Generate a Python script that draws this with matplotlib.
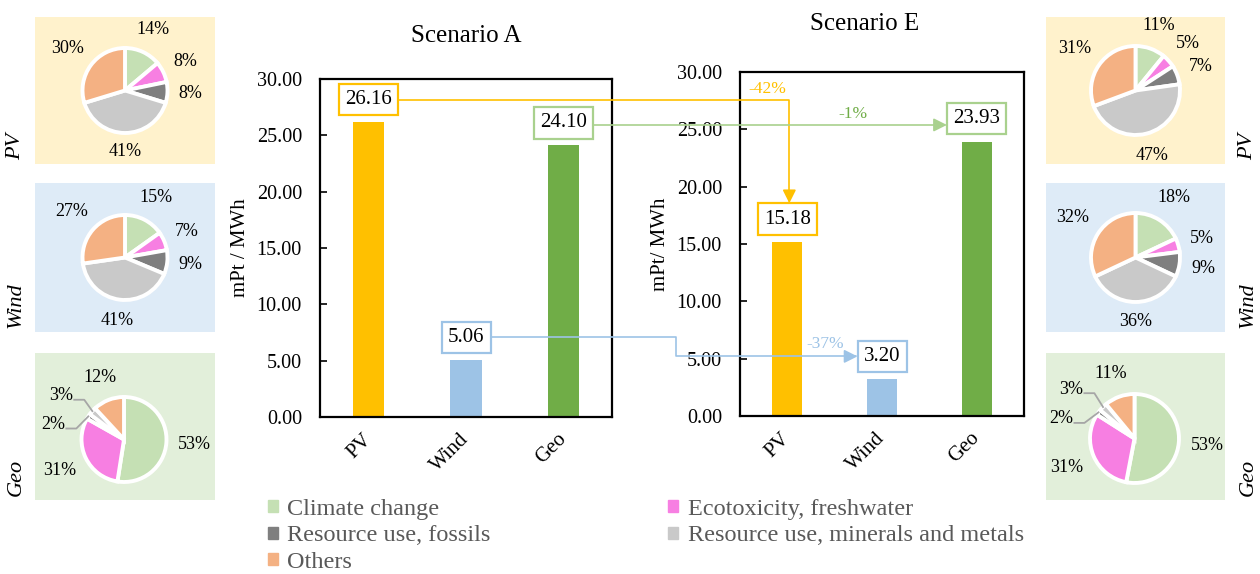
import numpy as np
import matplotlib as mpl
mpl.use('Agg')
import matplotlib.pyplot as plt
from matplotlib.patches import Patch, FancyArrowPatch
from matplotlib.path import Path
from matplotlib.lines import Line2D
from matplotlib.ticker import FormatStrFormatter

plt.rcParams['font.family'] = ['Liberation Serif', 'DejaVu Serif']

# ---- data ----
sources = ["PV", "Wind", "Geo"]
score_a = [26.16, 5.06, 24.10]
score_e = [15.18, 3.20, 23.93]
change_lbl = ["-42%", "-37%", "-1%"]

impacts = ["Climate change", "Ecotoxicity, freshwater", "Resource use, fossils",
           "Resource use, minerals and metals", "Others"]

share_a_pv = [14, 8, 8, 41, 30]
share_a_wind = [15, 7, 9, 41, 27]
share_a_geo = [53, 31, 2, 3, 12]
share_e_pv = [11, 5, 7, 47, 31]
share_e_wind = [18, 5, 9, 36, 32]
share_e_geo = [53, 31, 2, 3, 11]

# ---- styles ----
impact_colors = ["#C5E0B4", "#F77FE2", "#7F7F7F", "#C9C9C9", "#F4B183"]
bar_colors = ["#FFC000", "#9DC3E6", "#70AD47"]
box_colors = ["#FFC000", "#9DC3E6", "#A9D18E"]
change_colors = ["#FFC000", "#9DC3E6", "#70AD47"]
panel_colors = ["#FFF2CC", "#DEEBF7", "#E2EFDA"]
PIE_FS = 13

W, H = 1260, 574
fig = plt.figure(figsize=(W / 100, H / 100), dpi=100)


def px_rect(x0, y0, x1, y1):
    return [x0 / W, 1 - y1 / H, (x1 - x0) / W, (y1 - y0) / H]


def bar_panel(rect, values, ylabel, title, title_x, title_pad):
    ax = fig.add_axes(rect)
    x = np.arange(len(sources))
    ax.bar(x, values, width=0.32, color=bar_colors)
    ax.set_xlim(-0.5, 2.5)
    ax.set_ylim(0, 30)
    ax.set_yticks(np.arange(0, 31, 5))
    ax.yaxis.set_major_formatter(FormatStrFormatter('%.2f'))
    ax.set_xticks(x)
    ax.set_xticklabels(sources, rotation=45, ha='right', va='center',
                       rotation_mode='anchor')
    ax.tick_params(axis='x', length=0, pad=14, labelsize=15)
    ax.tick_params(axis='y', direction='in', length=5, width=1.2,
                   labelsize=14.5, pad=13)
    for s in ax.spines.values():
        s.set_linewidth(1.6)
    ax.set_ylabel(ylabel, fontsize=15, labelpad=5)
    ax.set_title(title, fontsize=18, x=title_x, pad=title_pad)
    boxes = []
    for xi, v, c in zip(x, values, box_colors):
        t = ax.text(xi, v + 2, f"{v:.2f}", ha='center', va='center', fontsize=15,
                    bbox=dict(boxstyle='square,pad=0.3', fc='white', ec=c, lw=1.6))
        boxes.append(t)
    return ax, boxes


ax_a, box_a = bar_panel(px_rect(320, 79, 612, 417), score_a, "mPt / MWh",
                        "Scenario A", 0.5, 27)
ax_e, box_e = bar_panel(px_rect(740, 72, 1024, 416), score_e, "mPt/ MWh",
                        "Scenario E", 0.44, 30)

leaders = []


def pie_panel(rect, shares, color, radius, shift):
    ax = fig.add_axes(rect)
    ax.set_facecolor(color)
    w_px, h_px = rect[2] * W, rect[3] * H
    cx, cy = w_px / 2 + shift[0], h_px / 2 + shift[1]
    ax.pie(shares, colors=impact_colors, startangle=90, counterclock=False,
           radius=radius, center=(cx, cy), frame=True,
           wedgeprops=dict(edgecolor='white', linewidth=2.8))
    ax.set_xlim(0, w_px)
    ax.set_ylim(0, h_px)
    ax.set_aspect('auto')
    ax.set_xticks([])
    ax.set_yticks([])
    for s in ax.spines.values():
        s.set_visible(False)

    fs_px = PIE_FS * 100 / 72
    frac = np.cumsum([0] + list(shares)) / np.sum(shares)
    for i, v in enumerate(shares):
        mid = np.deg2rad(90 - 360 * (frac[i] + frac[i + 1]) / 2)
        lbl = f"{v}%"
        if v < 4:
            # small slices: label pushed out with a leader line
            shift_deg, dist = {2: (21, 1.7), 3: (7, 1.8)}.get(i, (15, 1.7))
            ang = mid + np.deg2rad(shift_deg)
            tx, ty = cx + dist * radius * np.cos(ang), cy + dist * radius * np.sin(ang)
            t = ax.text(tx, ty, lbl, ha='center', va='center', fontsize=PIE_FS)
            ex, ey = cx + radius * np.cos(mid), cy + radius * np.sin(mid)
            leaders.append((ax, t, ex, ey))
        else:
            tw = (0.5 * (len(lbl) - 1) + 0.833) * fs_px
            th = 0.9 * fs_px
            d = 1.25 * radius + abs(np.cos(mid)) * tw / 2 + abs(np.sin(mid)) * th / 2
            ax.text(cx + d * np.cos(mid), cy + d * np.sin(mid), lbl,
                    ha='center', va='center', fontsize=PIE_FS)
    return ax


left_x, right_x = (35, 215), (1046, 1225)
rows_y = [(17, 164), (183, 332), (353, 500)]
shares_a = [share_a_pv, share_a_wind, share_a_geo]
shares_e = [share_e_pv, share_e_wind, share_e_geo]
for k in range(3):
    y0, y1 = rows_y[k]
    pie_panel(px_rect(left_x[0], y0, left_x[1], y1), shares_a[k],
              panel_colors[k], 42.5, (-1, -13) if k == 2 else (0, 0))
    pie_panel(px_rect(right_x[0], y0, right_x[1], y1), shares_e[k],
              panel_colors[k], 44.5, (-1, -12) if k == 2 else (0, 0))
    fig.text(16 / W, 1 - (y1 - 4) / H, sources[k], rotation=90, ha='center',
             va='bottom', fontsize=16, style='italic')
    fig.text(1248 / W, 1 - (y1 - 4) / H, sources[k], rotation=90, ha='center',
             va='bottom', fontsize=16, style='italic')

# legend
handles = [Patch(color=c) for c in impact_colors]
order = [0, 2, 4, 1, 3]
fig.legend([handles[i] for i in order], [impacts[i] for i in order],
           loc='upper left', bbox_to_anchor=(268 / W, 1 - 499 / H), ncol=2,
           frameon=False, fontsize=17.5, handlelength=0.4, handleheight=0.4,
           handletextpad=0.4, columnspacing=7.3, labelspacing=0.22, borderpad=0,
           borderaxespad=0, labelcolor='#595959')

# ---- connectors between the two scenarios ----
fig.canvas.draw()
rend = fig.canvas.get_renderer()
inv = fig.transFigure.inverted()


def ext(t):
    return t.get_bbox_patch().get_window_extent(rend)


def arrow(points, color):
    pts = inv.transform(np.array(points))
    codes = [Path.MOVETO] + [Path.LINETO] * (len(pts) - 1)
    p = FancyArrowPatch(path=Path(pts, codes), arrowstyle='-|>', mutation_scale=20,
                        color=color, lw=1.2, transform=fig.transFigure)
    fig.add_artist(p)


def label(x, y, s, color, ha):
    fx, fy = inv.transform((x, y))
    fig.text(fx, fy, s, color=color, ha=ha, va='bottom', fontsize=12.5)


# PV
ea, ee = ext(box_a[0]), ext(box_e[0])
ya = (ea.y0 + ea.y1) / 2
xc = (ee.x0 + ee.x1) / 2 + 2
arrow([(ea.x1, ya), (xc, ya), (xc, ee.y1)], box_colors[0])
label(xc - 3, ya + 3, change_lbl[0], change_colors[0], 'right')

# Wind
ea, ee = ext(box_a[1]), ext(box_e[1])
ya = (ea.y0 + ea.y1) / 2
ye = (ee.y0 + ee.y1) / 2
xm = (ax_a.get_window_extent(rend).x1 + ax_e.get_window_extent(rend).x0) / 2
arrow([(ea.x1, ya), (xm, ya), (xm, ye), (ee.x0, ye)], box_colors[1])
label(ee.x0 - 13, ye + 4, change_lbl[1], change_colors[1], 'right')

# Geo
ea, ee = ext(box_a[2]), ext(box_e[2])
ya = (ea.y0 + ea.y1) / 2 - 2
arrow([(ea.x1, ya), (ee.x0, ya)], box_colors[2])
label(ee.x0 - 94, ya + 3, change_lbl[2], change_colors[2], 'center')

# pie leader lines
for ax, t, ex, ey in leaders:
    te = t.get_window_extent(rend)
    ly = (te.y0 + te.y1) / 2 - 4
    e_disp = ax.transData.transform((ex, ey))
    pts = inv.transform(np.array([(te.x1 + 1, ly), (te.x1 + 11, ly), tuple(e_disp)]))
    fig.add_artist(Line2D(pts[:, 0], pts[:, 1], color='#A6A6A6', lw=1.3,
                          transform=fig.transFigure))

fig.savefig("out.png", dpi=100)
